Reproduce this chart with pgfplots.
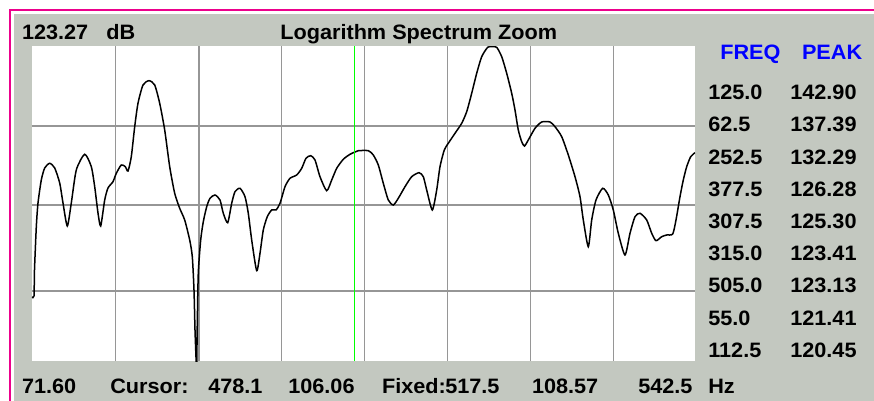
\documentclass[border=0pt]{standalone}
\usepackage{fontspec}
\setmainfont{Liberation Sans}[FakeStretch=1.04]
\usepackage{pgfplots}
\pgfplotsset{compat=1.18}

\definecolor{panel}{RGB}{195,200,192}
\definecolor{gridgray}{RGB}{150,150,150}
\definecolor{cursorgreen}{RGB}{0,255,0}
\definecolor{headblue}{RGB}{0,0,255}

\begin{document}
\begin{tikzpicture}
% pixel coordinates: 1px = 0.6pt, y counted from the top
\begin{scope}[x=0.6pt, y=-0.6pt, shift={(0,240.6pt)}]
  \fill[white] (0,0) rectangle (874,401);
  \fill[magenta] (9,9) rectangle (11,401);
  \fill[magenta] (9,9) rectangle (874,11);
  \fill[panel] (14,14) rectangle (874,401);
\end{scope}

\begin{axis}[
    at={(19.2pt,23.7pt)}, anchor=south west,
    scale only axis,
    width=397.8pt, height=189pt,
    xmin=32, xmax=695,
    ymin=46.5, ymax=361.5,
    y dir=reverse,
    axis background/.style={fill=white},
    axis line style={draw=none},
    xtick={115.7,199,281.7,364.3,447.7,530.7,613.3},
    ytick={126,205,291},
    xticklabels={}, yticklabels={},
    major tick length=0pt,
    grid=major,
    grid style={line width=0.9pt, gridgray},
]
  % spectrum trace
  \addplot[black, line width=0.9pt, smooth, tension=0.4] coordinates {
    (32,297) (34,296) (34.5,270) (36.3,227) (38,203) (41.3,180) (44.7,168)
    (49.7,163.3) (54.7,168) (59.7,183) (63,203) (67.3,226) (71.3,203)
    (76.3,170) (84.7,154.3) (91.3,166.7) (94.7,186.7) (98,213) (100.7,226)
    (104.7,200) (108,188) (113,181.7) (116.3,173.3) (121.3,165) (125.3,166.7)
    (128,171) (131.3,156.7) (134.7,126.7) (138,103.3) (143,85) (149,80.7)
    (154.7,85) (159.7,103.3) (164.7,130) (169.7,166.7) (174.7,193.3)
    (179.7,208.3) (184.7,220) (189.7,240) (192.3,256.7) (194,290) (195,330)
    (196,357) (196.6,372) (197.3,323) (198.3,273) (200.7,240) (203.3,221.7)
    (206.7,206.7) (210,198.3) (215,195) (220,200) (223.3,213.3) (227.7,222.7)
    (231.7,203.3) (235,191.7) (240,188.3) (245,196.7) (248.3,213.3)
    (251.7,240) (256.7,270.7) (260,253.3) (263.3,230) (267.3,216.7)
    (271.7,210) (276,210) (280,203.3) (285,186.7) (290,178.3) (296.7,175)
    (301.7,168.3) (306,158.3) (310.7,155.7) (315,160) (320,176.7)
    (326.7,190.7) (331.7,180) (336.7,168.3) (343.3,159.3) (350,154.3)
    (355,152) (358.3,150.7) (368.3,150.7) (373.3,155) (378.3,165)
    (383.3,183.3) (388.3,200) (393.3,205) (398.3,198.3) (405,186.7)
    (411.7,176.7) (419,172.7) (423.3,176.7) (426.7,190) (432.3,210)
    (436.7,190) (440,166.7) (444.3,150) (448.3,143.3) (455,133.3)
    (461.7,123.3) (466.7,111.7) (471.7,93.3) (476.7,73.3) (481.7,56.7)
    (487.7,47.3) (492,46.7) (496.7,47.3) (501.7,56.7) (506.7,73.3)
    (511.7,93.3) (515,110) (518.3,130) (521.7,141.7) (524.5,146)
    (528.3,140) (535,128.3) (541.7,122) (550,122) (555,126.7) (561.7,136.7)
    (568.3,155) (575,176.7) (580,196.7) (583.3,220) (588.3,246.7)
    (591.7,220) (596,200) (602.7,188.3) (608.3,195) (613.3,210)
    (618.3,233.3) (625,255) (630,233.3) (635,216.7) (640,213.3)
    (646.7,220) (651.7,233.3) (656,240.7) (661.7,236.7) (666.7,235)
    (672.7,234) (676,220) (680,196.7) (683.3,180) (686.7,166.7)
    (690.7,156.7) (695,152.7)
  };
  % cursor
  \addplot[cursorgreen, line width=0.7pt] coordinates {(354.3,46.5) (354.3,361.5)};
\end{axis}

\begin{scope}[x=0.6pt, y=-0.6pt, shift={(0,240.6pt)},
    every node/.style={anchor=base west, inner sep=0pt,
      font=\fontsize{12.5}{14}\selectfont\bfseries}]
  % top row
  \node at (21.7,40) {123.27};
  \node at (106,40) {dB};
  \node at (280,40) {Logarithm Spectrum Zoom};
  % peak table
  \node[text=headblue] at (720,60) {FREQ};
  \node[text=headblue] at (801.7,60) {PEAK};
  \foreach \f/\p [count=\i from 0] in {125.0/142.90, 62.5/137.39,
      252.5/132.29, 377.5/126.28, 307.5/125.30, 315.0/123.41,
      505.0/123.13, 55.0/121.41, 112.5/120.45} {
    \node at (708,{99.8+32.2*\i}) {\f};
    \node at (790,{99.8+32.2*\i}) {\p};
  }
  % bottom row
  \node at (21.7,393.3) {71.60};
  \node at (110,393.3) {Cursor:};
  \node at (208,393.3) {478.1};
  \node at (288,393.3) {106.06};
  \node at (381.7,393.3) {Fixed:};
  \node at (445,393.3) {517.5};
  \node at (531.7,393.3) {108.57};
  \node at (638,393.3) {542.5};
  \node at (708,393.3) {Hz};
\end{scope}
\end{tikzpicture}
\end{document}
